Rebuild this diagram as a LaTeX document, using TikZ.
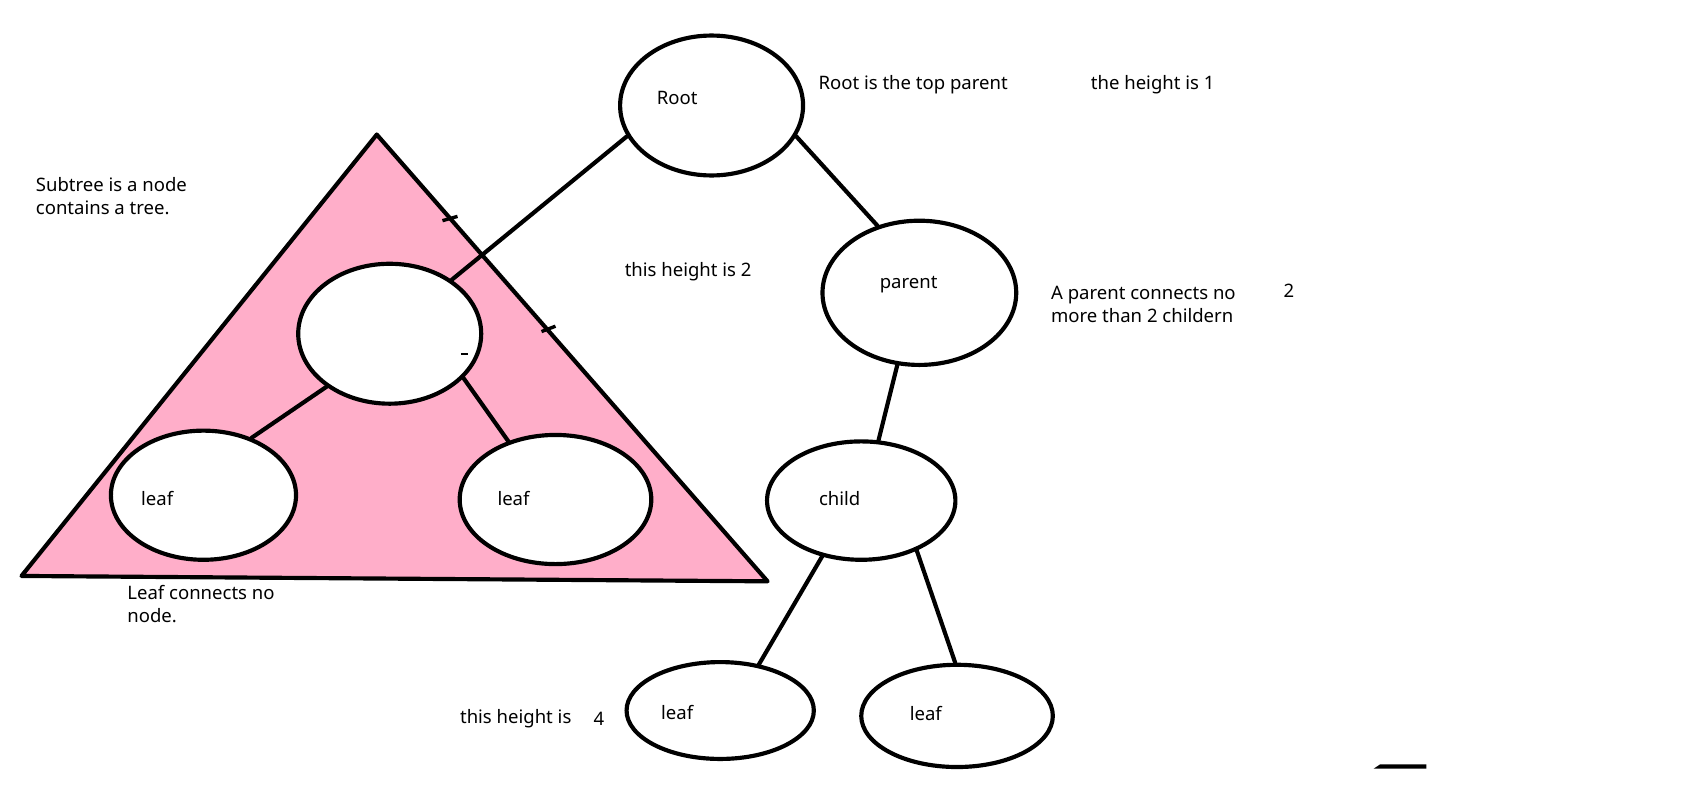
\documentclass[tikz,border=0pt]{standalone}
\usepackage{fontspec}
\setsansfont{Noto Sans}
\usepackage{tikz}
\usetikzlibrary{
  positioning,
  shapes.geometric
}
\definecolor{subpink}{RGB}{255,174,201}
\tikzstyle{treenode}=[draw, ellipse, line width=2.2pt, fill=white, inner sep=0pt]
\tikzstyle{edge}=[line width=2.2pt, line cap=round]
\tikzstyle{nodetext}=[inner sep=0pt, font=\sffamily\fontsize{9.8}{12}\selectfont]
\tikzstyle{note}=[anchor=west, inner sep=0pt, align=left, font=\sffamily\fontsize{9.8}{12}\selectfont]

\begin{document}
\begin{tikzpicture}[x=0.02cm, y=-0.02cm]
    \useasboundingbox (0,0) rectangle (1568,737);

    % 部分木を表す三角形
    \coordinate (TA) at (350,125);
    \coordinate (TL) at (20,535);
    \coordinate (TR) at (713,540);
    \filldraw[fill=subpink, line width=2.2pt, line join=round] (TA) -- (TL) -- (TR) -- cycle;

    % 三角形の辺の小さな印
    \draw[line width=1.8pt] (411,205) -- (425,201);
    \draw[line width=1.8pt] (503,308) -- (516,303);

    % 木のノード
    \node[treenode, minimum width=3.4cm, minimum height=2.6cm] (root) at (661,98) {};
    \node[treenode, minimum width=3.4cm, minimum height=2.6cm] (sub) at (362,310) {};
    \node[treenode, minimum width=3.44cm, minimum height=2.4cm] (leafA) at (189,460) {};
    \node[treenode, minimum width=3.56cm, minimum height=2.4cm] (leafB) at (516,464) {};
    \node[treenode, minimum width=3.6cm, minimum height=2.68cm] (parent) at (854,272) {};
    \node[treenode, minimum width=3.5cm, minimum height=2.2cm] (child) at (800,465) {};
    \node[treenode, minimum width=3.48cm, minimum height=1.8cm] (leafC) at (669,660) {};
    \node[treenode, minimum width=3.56cm, minimum height=1.9cm] (leafD) at (889,665) {};

    % ノード間の枝
    \draw[edge] (root.200) -- (sub.41);
    \draw[edge] (root.-20) -- (parent.122);
    \draw[edge] (sub.220) -- (leafA.50);
    \draw[edge] (sub.-31) -- (leafB.129);
    \draw[edge] (parent.253) -- (child.74);
    \draw[edge] (child.235) -- (leafC.50);
    \draw[edge] (child.-42) -- (leafD.92);

    % ノード内の文字
    \node[nodetext] (rootText) at (629,91) {Root};
    \node[nodetext] (leafAText) at (146,463) {leaf};
    \node[nodetext] (leafBText) at (477,463) {leaf};
    \node[nodetext] (parentText) at (844,264) {parent};
    \node[nodetext] (childText) at (780,463) {child};
    \node[nodetext] (leafCText) at (629,662) {leaf};
    \node[nodetext] (leafDText) at (860,663) {leaf};
    \draw[line width=0.8pt] (428,329) -- (435,329);

    % 説明文
    \node[note] (rootNote) at (760,79) {Root is the top parent};
    \node[note] (heightOne) at (1013,79) {the height is 1};
    \node[note] (subNote) at (33,182) {Subtree is a node\\contains a tree.};
    \node[note] (heightTwo) at (580,252) {this height is 2};
    \node[note] (parentNote) at (976,283) {A parent connects no\\more than 2 childern};
    \node[note] (parentNum) at (1192,270) {2};
    \node[note] (leafNote) at (118,561) {Leaf connects no\\node.};
    \node[note] (heightFour) at (427,668) {this height is};
    \node[note] (fourNum) at (551,668) {4};

    % 右下の黒い線
    \fill (1276,714) -- (1282,710) -- (1325,710) -- (1325,714) -- cycle;
\end{tikzpicture}
\end{document}
